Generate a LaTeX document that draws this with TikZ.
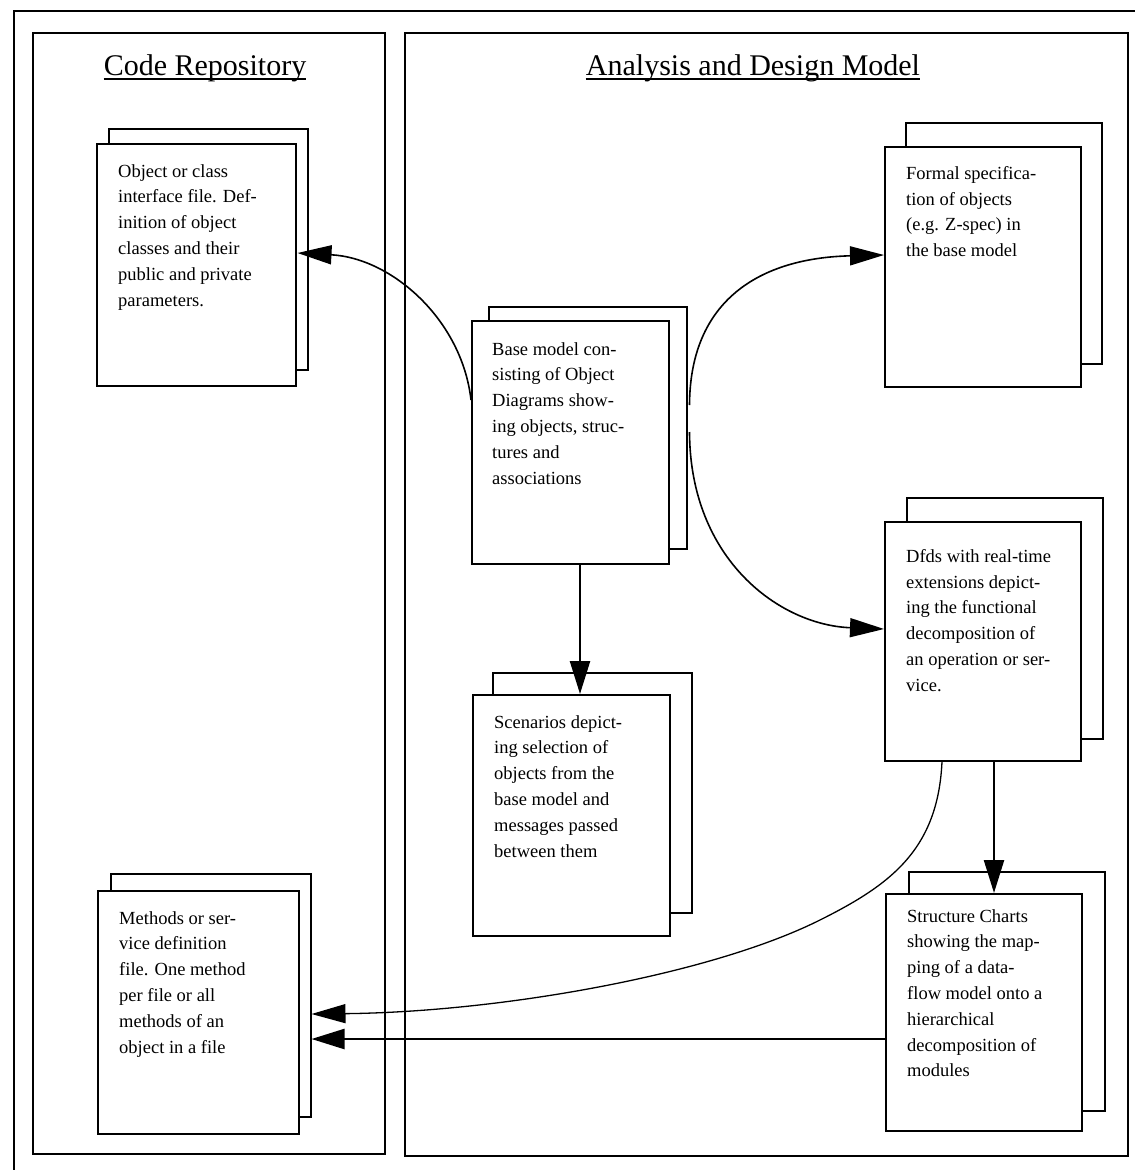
\documentclass[tikz,border=0pt]{standalone}
\usepackage{fontspec}
\setmainfont{Liberation Serif}
\usetikzlibrary{arrows.meta,calc}
\begin{document}
\begin{tikzpicture}[x=1pt,y=-1pt,
  frame/.style={draw, line width=1.5pt},
  sheet/.style={draw, line width=1.5pt, fill=white, inner sep=0pt, anchor=north west},
  doctext/.style={anchor=north west, inner sep=0pt, align=left,
    font=\fontsize{18.5}{25.8}\selectfont},
  title/.style={font=\fontsize{30}{36}\selectfont, inner sep=0pt, anchor=base},
  flow/.style={line width=1.6pt, -{Triangle[length=34pt,width=19pt]}},
  link/.style={line width=2.4pt, -{Triangle[length=33pt,width=20pt]}}]

\useasboundingbox (0,0) rectangle (1135,1170);
\clip (0,0) rectangle (1135,1170);

% outer frame and the two panels
\draw[frame] (14,11) rectangle (1150,1185);
\draw[frame] (33,33) rectangle (385,1154);
\draw[frame] (405,33) rectangle (1128,1156);

% panel titles
\node[title] (codetitle) at (205,75) {Code Repository};
\draw[line width=1.4pt] ($(codetitle.base west)+(0,4)$) -- ($(codetitle.base east)+(0,4)$);
\node[title] (modeltitle) at (753,75) {Analysis and Design Model};
\draw[line width=1.4pt] ($(modeltitle.base west)+(0,4)$) -- ($(modeltitle.base east)+(0,4)$);

% document stacks: back sheet, front sheet, text
\node[sheet, minimum width=199pt, minimum height=241pt] (objback) at (108,128) {};
\node[sheet, minimum width=199pt, minimum height=242pt] (obj) at (96,143) {};
\node[doctext] (objtxt) at ($(obj.north west)+(22,21)$)
  {Object or class\\interface file. Def-\\inition of object\\classes and their\\public and private\\parameters.};

\node[sheet, minimum width=198pt, minimum height=242pt] (baseback) at (488,306) {};
\node[sheet, minimum width=197pt, minimum height=243pt] (base) at (471,320) {};
\node[doctext] (basetxt) at ($(base.north west)+(21,22)$)
  {Base model con-\\sisting of Object\\Diagrams show-\\ing objects, struc-\\tures and\\associations};

\node[sheet, minimum width=196pt, minimum height=241pt] (formalback) at (905,122) {};
\node[sheet, minimum width=196pt, minimum height=240pt] (formal) at (884,146) {};
\node[doctext] (formaltxt) at ($(formal.north west)+(22,20)$)
  {Formal specifica-\\tion of objects\\(e.g. Z-spec) in\\the base model};

\node[sheet, minimum width=196pt, minimum height=241pt] (dfdback) at (906,497) {};
\node[sheet, minimum width=196pt, minimum height=239pt] (dfd) at (884,521) {};
\node[doctext] (dfdtxt) at ($(dfd.north west)+(22,28)$)
  {Dfds with real-time\\extensions depict-\\ing the functional\\decomposition of\\an operation or ser-\\vice.};

\node[sheet, minimum width=199pt, minimum height=240pt] (scenback) at (492,672) {};
\node[sheet, minimum width=197pt, minimum height=241pt] (scen) at (472,694) {};
\node[doctext] (scentxt) at ($(scen.north west)+(22,21)$)
  {Scenarios depict-\\ing selection of\\objects from the\\base model and\\messages passed\\between them};

\node[sheet, minimum width=200pt, minimum height=243pt] (methback) at (110,873) {};
\node[sheet, minimum width=201pt, minimum height=243pt] (meth) at (97,890) {};
\node[doctext] (methtxt) at ($(meth.north west)+(22,21)$)
  {Methods or ser-\\vice definition\\file. One method\\per file or all\\methods of an\\object in a file};

\node[sheet, minimum width=196pt, minimum height=239pt] (structback) at (908,871) {};
\node[sheet, minimum width=196pt, minimum height=237pt] (struct) at (885,893) {};
\node[doctext] (structtxt) at ($(struct.north west)+(22,16)$)
  {Structure Charts\\showing the map-\\ping of a data-\\flow model onto a\\hierarchical\\decomposition of\\modules};

% connectors
\draw[flow] ($(base.north west)+(0,80)$)
  .. controls (462,320) and (392,258) .. ($(obj.north east)+(1,110)$);
\draw[flow] ($(baseback.north east)+(2,99)$)
  .. controls (690,300) and (760,258) .. ($(formal.north west)+(0,109)$);
\draw[flow] ($(baseback.north east)+(2,126)$)
  .. controls (690,560) and (780,625) .. ($(dfd.north west)+(0,108)$);
\draw[link] ($(base.south west)+(109,0)$) -- ($(scen.north west)+(108,0)$);
\draw[link] ($(dfd.south west)+(110,0)$) -- ($(struct.north west)+(109,0)$);
\draw[flow, line width=1.3pt] ($(dfd.south west)+(58,0)$)
  .. controls (938,850) and (890,885) .. (820,920)
  .. controls (710,975) and (500,1012) .. ($(methback.north east)+(0,141)$);
\draw[link] ($(struct.north west)+(0,146)$) -- ($(methback.north east)+(0,166)$);
\end{tikzpicture}
\end{document}
